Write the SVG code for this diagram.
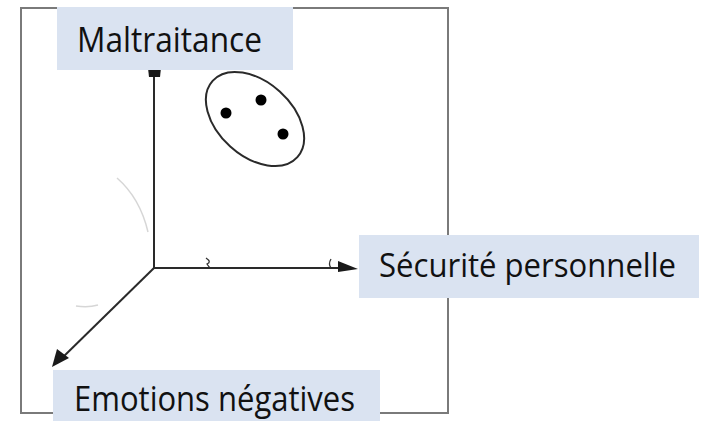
<svg xmlns="http://www.w3.org/2000/svg" width="701" height="421" viewBox="0 0 701 421">
<style>
.frame{fill:none;stroke:#7a7a7a;stroke-width:2}
.axis{fill:none;stroke:#2a2a2a;stroke-width:2}
.box{fill:#dae3f1}
.lbl{font-family:"Open Sans","Liberation Sans",sans-serif;font-size:34px;fill:#111}
.art{fill:none;stroke:#d6d6d6;stroke-width:1.5}
.head{fill:#1a1a1a}
</style>
<rect width="701" height="421" fill="#ffffff"/>
<path class="frame" d="M57,8 H21 V413 H53 M380,413 H448 V298 M448,235 V8 H293"/>
<g id="artifacts">
<path class="art" d="M117,178 Q140,198 148,232"/>
<path class="art" d="M76,306 Q88,308 98,305"/>
<path d="M206,258 Q212,262 207,264 Q209,267 210,268" fill="none" stroke="#333" stroke-width="1.3"/>
<path d="M331,259 Q328,264 331,268" fill="none" stroke="#333" stroke-width="1.3"/>
</g>
<g id="connectors">
<path class="axis" d="M154,268 L154,70"/>
<path class="head" d="M148,68 L161,68 L160,77 L149,77 Z"/>
<path class="axis" d="M154,268 L345,268"/>
<path class="head" d="M338,261 L358,269 L338,272 Z"/>
<path class="axis" d="M154,268 L60,360" stroke-width="1.8"/>
<path class="head" d="M52,367 L57,349 L69,358 Z"/>
</g>
<g id="cluster">
<ellipse cx="255" cy="119" rx="57" ry="37" transform="rotate(42 255 119)" fill="none" stroke="#2a2a2a" stroke-width="2"/>
<circle cx="226" cy="113" r="5.5" fill="#000"/>
<circle cx="261" cy="100" r="5.5" fill="#000"/>
<circle cx="283" cy="134" r="5.5" fill="#000"/>
</g>
<g id="node-maltraitance">
<rect class="box" x="57" y="7" width="236" height="63"/>
<text class="lbl" x="77" y="52" textLength="185" lengthAdjust="spacingAndGlyphs">Maltraitance</text>
</g>
<g id="node-securite">
<rect class="box" x="359" y="235" width="340" height="63"/>
<text class="lbl" x="379" y="277" style="font-size:32px" textLength="297" lengthAdjust="spacingAndGlyphs">Sécurité personnelle</text>
</g>
<g id="node-emotions">
<rect class="box" x="53" y="370" width="327" height="51"/>
<text class="lbl" x="74" y="411" textLength="281" lengthAdjust="spacingAndGlyphs">Emotions négatives</text>
</g>
</svg>
